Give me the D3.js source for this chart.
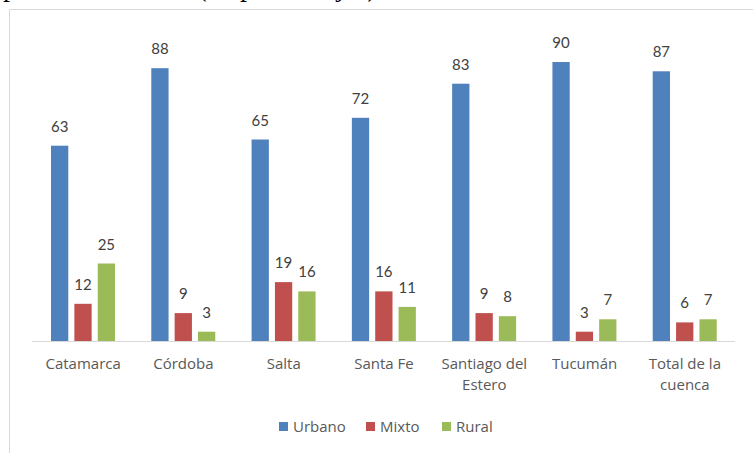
<!DOCTYPE html>
<html>
<head>
<meta charset="utf-8">
<script src="https://cdn.jsdelivr.net/npm/d3@7"></script>
<style>
  body { margin: 0; background: #fff; }
  svg { display: block; }
</style>
</head>
<body>
<div class="chart"></div>
<script>
const categories = ["Catamarca", "Córdoba", "Salta", "Santa Fe", "Santiago del Estero", "Tucumán", "Total de la cuenca"];
const catLines = [["Catamarca"], ["Córdoba"], ["Salta"], ["Santa Fe"], ["Santiago del", "Estero"], ["Tucumán"], ["Total de la", "cuenca"]];
const seriesNames = ["Urbano", "Mixto", "Rural"];
const urbano = [63, 88, 65, 72, 83, 90, 87];
const mixto = [12, 9, 19, 16, 9, 3, 6];
const rural = [25, 3, 16, 11, 8, 7, 7];
const colors = ["#4F81BD", "#C0504D", "#9BBB59"];

const W = 753, H = 453;
const svg = d3.select(".chart").append("svg")
    .attr("width", W)
    .attr("height", H);

// caption line above the chart, mostly cut off by the crop
svg.append("text")
    .attr("x", 3)
    .attr("y", -4)
    .style("font-family", "'Liberation Serif', 'Times New Roman', serif")
    .style("font-size", "28px")
    .attr("fill", "#000")
    .text("provincias. Total (en porcentajes)");

// chart frame
svg.append("path")
    .attr("d", "M9.5," + H + "V9.5H" + W)
    .attr("fill", "none")
    .attr("stroke", "#d9d9d9");

const values = [urbano, mixto, rural];

const x = d3.scaleBand().domain(categories).range([32, 734]).paddingInner(0).paddingOuter(0);
const xs = d3.scaleBand().domain(seriesNames).range([19, 83]).paddingInner(0.26);
const y = d3.scaleLinear().domain([0, 100]).range([341, 31]);

const textColor = "#595959";
const numFont = "Lato, 'Open Sans', sans-serif";
const font = "'Open Sans', Lato, sans-serif";

const groups = svg.append("g").selectAll("g")
    .data(categories)
    .enter().append("g")
    .attr("transform", d => "translate(" + x(d) + ",0)");

seriesNames.forEach((s, si) => {
    groups.append("rect")
        .attr("x", xs(s))
        .attr("width", xs.bandwidth())
        .attr("y", (d, i) => y(values[si][i]))
        .attr("height", (d, i) => y(0) - y(values[si][i]))
        .attr("fill", colors[si]);

    groups.append("text")
        .attr("x", xs(s) + xs.bandwidth() / 2)
        .attr("y", (d, i) => y(values[si][i]) - 14)
        .attr("text-anchor", "middle")
        .style("font-family", numFont)
        .style("font-size", "15px")
        .attr("fill", "#404040")
        .text((d, i) => values[si][i]);
});

// baseline
svg.append("line")
    .attr("x1", 32).attr("x2", 735)
    .attr("y1", y(0) + 0.5).attr("y2", y(0) + 0.5)
    .attr("stroke", "#d9d9d9");

// category labels
const labels = svg.append("g").selectAll("text")
    .data(categories)
    .enter().append("text")
    .attr("x", d => x(d) + x.bandwidth() / 2 + 1)
    .attr("y", 369)
    .attr("text-anchor", "middle")
    .style("font-family", font)
    .style("font-size", "15px")
    .attr("fill", textColor);

labels.each(function (d, i) {
    d3.select(this).selectAll("tspan")
        .data(catLines[i])
        .enter().append("tspan")
        .attr("x", x(d) + x.bandwidth() / 2 + 1)
        .attr("dy", (t, j) => j === 0 ? 0 : 21)
        .text(t => t);
});

// legend
const legendX = [279, 366, 442];
const legend = svg.append("g");
seriesNames.forEach((s, i) => {
    legend.append("rect")
        .attr("x", legendX[i])
        .attr("y", 422)
        .attr("width", 9)
        .attr("height", 9)
        .attr("fill", colors[i]);
    legend.append("text")
        .attr("x", legendX[i] + 14)
        .attr("y", 432)
        .style("font-family", font)
        .style("font-size", "15px")
        .attr("fill", textColor)
        .text(s);
});
</script>
</body>
</html>
